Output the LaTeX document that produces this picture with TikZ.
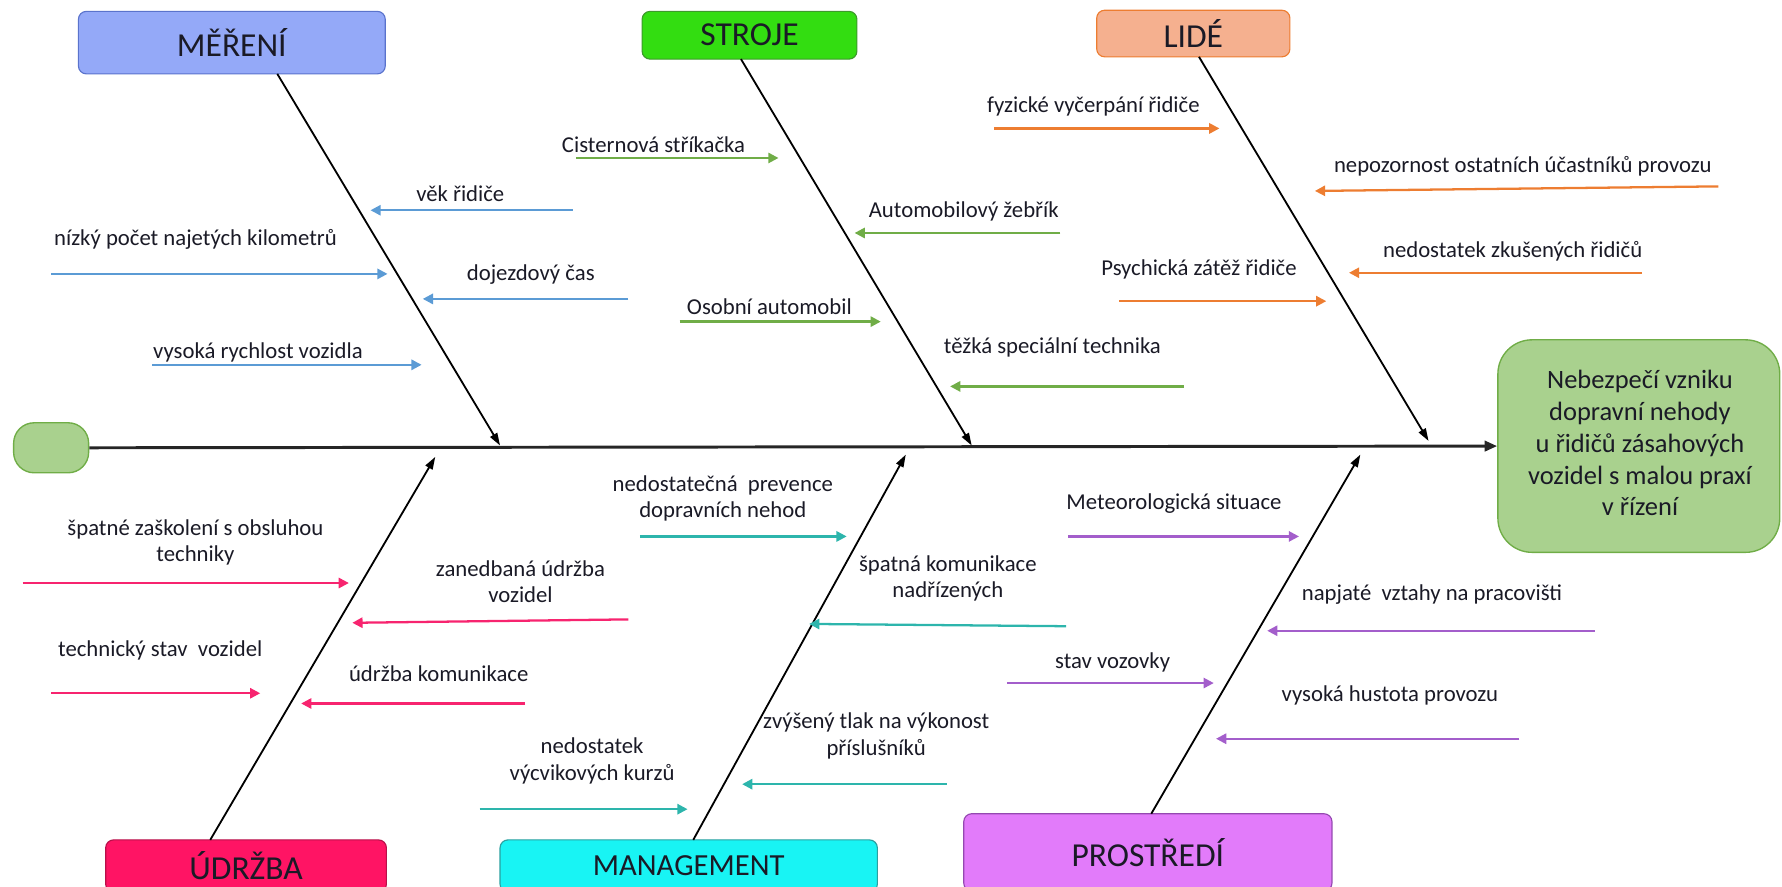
\documentclass[tikz,border=0pt]{standalone}
\usepackage{fontspec}
\setmainfont{Carlito}
\usetikzlibrary{arrows.meta}
\definecolor{fMer}{HTML}{94A9F8}\definecolor{dMer}{HTML}{5A73CC}
\definecolor{fStr}{HTML}{33DD11}\definecolor{dStr}{HTML}{3C9A2A}
\definecolor{fLid}{HTML}{F5B08F}\definecolor{dLid}{HTML}{ED7D31}
\definecolor{fUdr}{HTML}{FF1464}\definecolor{dUdr}{HTML}{B8104A}
\definecolor{fMan}{HTML}{18F4F4}\definecolor{dMan}{HTML}{2A9F9F}
\definecolor{fPro}{HTML}{E27BFA}\definecolor{dPro}{HTML}{9448B0}
\definecolor{fEff}{HTML}{A9D18E}\definecolor{dEff}{HTML}{70AD47}
\definecolor{aBlue}{HTML}{5B9BD5}
\definecolor{aGreen}{HTML}{70AD47}
\definecolor{aOrange}{HTML}{ED7D31}
\definecolor{aPink}{HTML}{F7246F}
\definecolor{aTeal}{HTML}{2DB5AC}
\definecolor{aPurple}{HTML}{A35ECB}
\definecolor{txt}{HTML}{1A1A26}
\begin{document}
\begin{tikzpicture}[x=1pt,y=-1pt,
  hdr/.style={draw, rounded corners=7pt, line width=1pt, inner sep=0pt,
    font=\fontsize{29.5}{34}\selectfont, text=txt},
  lbl/.style={font=\fontsize{20}{23}\selectfont, align=center, text=txt, inner sep=0pt},
  cause/.style={line width=2pt, -{Triangle[length=9pt,width=9pt]}},
  bone/.style={line width=1.6pt, black, -{Triangle[length=11pt,width=7pt]}},
  spine/.style={line width=2.6pt, black!85, -{Triangle[length=11pt,width=9pt]}}]
\useasboundingbox (0,0) rectangle (1568,780);

% category boxes
\node[hdr, fill=fMer, draw=dMer, minimum width=270pt, minimum height=55pt] (mer) at (204,37.5) {MĚŘENÍ};
\node[hdr, fill=fStr, draw=dStr, minimum width=189pt, minimum height=42pt] (str) at (659.5,31) {STROJE};
\node[hdr, fill=fLid, draw=dLid, minimum width=170pt, minimum height=41pt] (lid) at (1050,29.5) {LIDÉ};
\node[hdr, fill=fUdr, draw=dUdr, minimum width=247pt, minimum height=46pt] (udr) at (216.5,762) {ÚDRŽBA};
\node[hdr, fill=fMan, draw=dMan, minimum width=332pt, minimum height=46pt, font=\fontsize{27}{32}\selectfont] (man) at (606,762) {MANAGEMENT};
\node[hdr, fill=fPro, draw=dPro, minimum width=324pt, minimum height=68pt] (pro) at (1010,750) {PROSTŘEDÍ};

% head and tail
\node[draw=dEff, fill=fEff, line width=1.2pt, rounded corners=30pt, minimum width=248pt, minimum height=187pt] (eff) at (1442,392.5) {};
\node[font=\fontsize{23.3}{28}\selectfont, align=center, text=txt] (efftext) at (1443,390) {Nebezpečí vzniku\\dopravní nehody\\u řidičů zásahových\\vozidel s malou praxí\\v řízení};
\node[draw=dEff, fill=fEff, line width=1.2pt, rounded corners=18pt, minimum width=66pt, minimum height=44pt] (tail) at (45,394) {};

% spine
\draw[spine] (tail.east) -- (eff.west);

% bones
\coordinate (merA) at (244,65);   \coordinate (merB) at (440,392);
\coordinate (strA) at (652,52);   \coordinate (strB) at (855,392);
\coordinate (lidA) at (1055,50);  \coordinate (lidB) at (1257,388);
\coordinate (udrA) at (185,739);  \coordinate (udrB) at (383,402);
\coordinate (manA) at (610,739);  \coordinate (manB) at (797,400);
\coordinate (proA) at (1013,716); \coordinate (proB) at (1197,400);
\draw[bone] (merA) -- (merB);
\draw[bone] (strA) -- (strB);
\draw[bone] (lidA) -- (lidB);
\draw[bone] (udrA) -- (udrB);
\draw[bone] (manA) -- (manB);
\draw[bone] (proA) -- (proB);

% MĚŘENÍ causes
\node[lbl] (m1) at (405,170) {věk řidiče};
\coordinate (m1a) at (504,185); \coordinate (m1b) at (326,185);
\draw[cause, aBlue] (m1a) -- (m1b);
\node[lbl] (m2) at (172,211) {nízký počet najetých kilometrů};
\coordinate (m2a) at (45,241); \coordinate (m2b) at (341,241);
\draw[cause, aBlue] (m2a) -- (m2b);
\node[lbl] (m3) at (467,242) {dojezdový čas};
\coordinate (m3a) at (553,263); \coordinate (m3b) at (372,263);
\draw[cause, aBlue] (m3a) -- (m3b);
\node[lbl] (m4) at (227,310) {vysoká rychlost vozidla};
\coordinate (m4a) at (134,321); \coordinate (m4b) at (371,321);
\draw[cause, aBlue] (m4a) -- (m4b);

% STROJE causes
\node[lbl] (s1) at (575,127) {Cisternová stříkačka};
\coordinate (s1a) at (507,139); \coordinate (s1b) at (685,139);
\draw[cause, aGreen] (s1a) -- (s1b);
\node[lbl] (s2) at (848,186) {Automobilový žebřík};
\coordinate (s2a) at (933,205); \coordinate (s2b) at (752,205);
\draw[cause, aGreen] (s2a) -- (s2b);
\node[lbl] (s3) at (677,270) {Osobní automobil};
\coordinate (s3a) at (598,283); \coordinate (s3b) at (775,283);
\draw[cause, aGreen] (s3a) -- (s3b);
\node[lbl] (s4) at (926,306) {těžká speciální technika};
\coordinate (s4a) at (1042,340); \coordinate (s4b) at (836,340);
\draw[cause, aGreen] (s4a) -- (s4b);

% LIDÉ causes
\node[lbl] (l1) at (962,94) {fyzické vyčerpání řidiče};
\coordinate (l1a) at (875,113); \coordinate (l1b) at (1073,113);
\draw[cause, aOrange] (l1a) -- (l1b);
\node[lbl] (l2) at (1340,146) {nepozornost ostatních účastníků provozu};
\coordinate (l2a) at (1512,164); \coordinate (l2b) at (1157,168);
\draw[cause, aOrange] (l2a) -- (l2b);
\node[lbl] (l3) at (1331,221) {nedostatek zkušených řidičů};
\coordinate (l3a) at (1445,240); \coordinate (l3b) at (1187,240);
\draw[cause, aOrange] (l3a) -- (l3b);
\node[lbl] (l4) at (1055,237) {Psychická zátěž řidiče};
\coordinate (l4a) at (985,265); \coordinate (l4b) at (1167,265);
\draw[cause, aOrange] (l4a) -- (l4b);

% ÚDRŽBA causes
\node[lbl] (u1) at (172,477) {špatné zaškolení s obsluhou\\techniky};
\coordinate (u1a) at (20,513); \coordinate (u1b) at (307,513);
\draw[cause, aPink] (u1a) -- (u1b);
\node[lbl] (u2) at (458,512) {zanedbaná údržba\\vozidel};
\coordinate (u2a) at (553,545); \coordinate (u2b) at (310,548);
\draw[cause, aPink] (u2a) -- (u2b);
\node[lbl] (u3) at (141,572) {technický stav \ vozidel};
\coordinate (u3a) at (45,610); \coordinate (u3b) at (229,610);
\draw[cause, aPink] (u3a) -- (u3b);
\node[lbl] (u4) at (386,593) {údržba komunikace};
\coordinate (u4a) at (462,619); \coordinate (u4b) at (265,619);
\draw[cause, aPink] (u4a) -- (u4b);

% MANAGEMENT causes
\node[lbl] (g1) at (636,438.5) {nedostatečná \ prevence\\dopravních nehod};
\coordinate (g1a) at (563,472); \coordinate (g1b) at (745,472);
\draw[cause, aTeal] (g1a) -- (g1b);
\node[lbl] (g2) at (834,509) {špatná komunikace\\nadřízených};
\coordinate (g2a) at (938,551); \coordinate (g2b) at (712,549);
\draw[cause, aTeal] (g2a) -- (g2b);
\node[lbl] (g3) at (521,669.5) {nedostatek\\výcvikových kurzů};
\coordinate (g3a) at (422,712); \coordinate (g3b) at (605,712);
\draw[cause, aTeal] (g3a) -- (g3b);
\node[lbl] (g4) at (771,647.5) {zvýšený tlak na výkonost\\příslušníků};
\coordinate (g4a) at (833,690); \coordinate (g4b) at (653,690);
\draw[cause, aTeal] (g4a) -- (g4b);

% PROSTŘEDÍ causes
\node[lbl] (p1) at (1033,443) {Meteorologická situace};
\coordinate (p1a) at (940,472); \coordinate (p1b) at (1143,472);
\draw[cause, aPurple] (p1a) -- (p1b);
\node[lbl] (p2) at (1260,523) {napjaté \ vztahy na pracovišti};
\coordinate (p2a) at (1403,555); \coordinate (p2b) at (1115,555);
\draw[cause, aPurple] (p2a) -- (p2b);
\node[lbl] (p3) at (979,583) {stav vozovky};
\coordinate (p3a) at (886,601); \coordinate (p3b) at (1068,601);
\draw[cause, aPurple] (p3a) -- (p3b);
\node[lbl] (p4) at (1223,612) {vysoká hustota provozu};
\coordinate (p4a) at (1337,650); \coordinate (p4b) at (1070,650);
\draw[cause, aPurple] (p4a) -- (p4b);
\end{tikzpicture}
\end{document}
